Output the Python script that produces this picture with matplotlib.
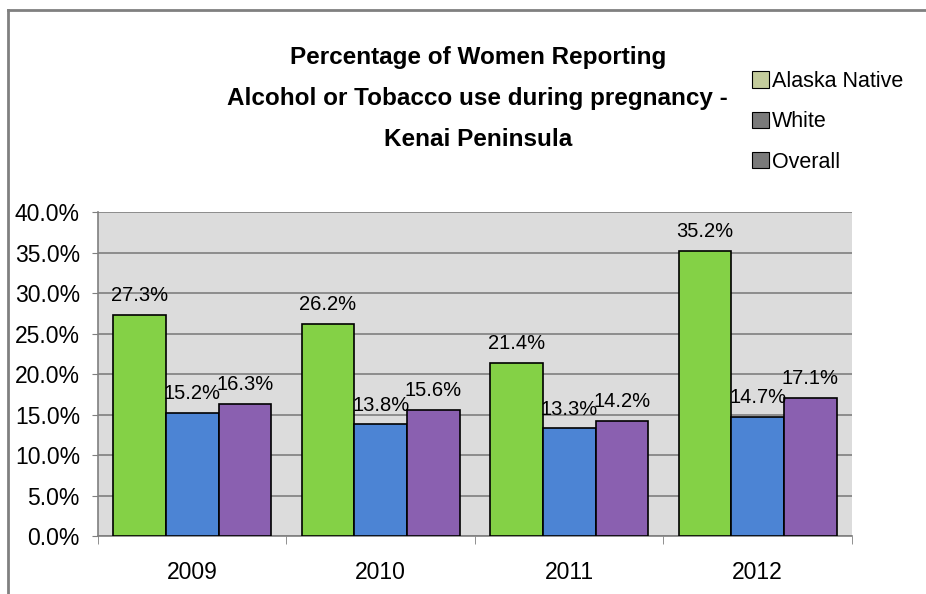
import numpy as np
import matplotlib.pyplot as plt
from matplotlib.lines import Line2D
from matplotlib.patches import Patch

plt.rcParams['font.family'] = ['Liberation Sans', 'DejaVu Sans']

years = ['2009', '2010', '2011', '2012']
series = ['Alaska Native', 'White', 'Overall']
alaska_native = [27.3, 26.2, 21.4, 35.2]
white = [15.2, 13.8, 13.3, 14.7]
overall = [16.3, 15.6, 14.2, 17.1]
colors = ['#84d146', '#4c84d4', '#8a60b0']
legend_marks = ['#c4cc9c', '#7a7a7a', '#7a7a7a']

fig = plt.figure(figsize=(9.26, 5.94), dpi=100, facecolor='white')
ax = fig.add_axes([0.1058, 0.0976, 0.8142, 0.5454])
ax.set_facecolor('#dcdcdc')

x = np.arange(len(years))
w = 0.28
for i, vals in enumerate([alaska_native, white, overall]):
    bars = ax.bar(x + (i - 1) * w, vals, w, color=colors[i],
                  edgecolor='black', linewidth=1.2, zorder=3)
    ax.bar_label(bars, labels=[f'{v:.1f}%' for v in vals], padding=7,
                 fontsize=14.5, zorder=4)

ax.set_xlim(-0.5, len(years) - 0.5)
ax.set_ylim(0, 40)
ax.set_yticks(np.arange(0, 41, 5))
ax.set_yticklabels([f'{v:.1f}%' for v in np.arange(0, 41, 5)])
ax.yaxis.grid(True, color='#7f7f7f', linewidth=1.2, zorder=0)
ax.set_axisbelow(True)

ax.set_xticks(x)
ax.set_xticklabels(years)
ax.set_xticks(np.arange(-0.5, len(years)), minor=True)
ax.tick_params(axis='x', which='major', length=0, pad=18, labelsize=16.5)
ax.tick_params(axis='x', which='minor', length=6, color='#7f7f7f', direction='out')
ax.tick_params(axis='y', length=4.5, color='#7f7f7f', pad=8.5, labelsize=16.5)

for s in ['top', 'right']:
    ax.spines[s].set_visible(False)
for s in ['left', 'bottom']:
    ax.spines[s].set_color('#7f7f7f')
    ax.spines[s].set_linewidth(1.2)

fig.text(0.516, 0.835, 'Percentage of Women Reporting\nAlcohol or Tobacco use during pregnancy -\nKenai Peninsula',
         ha='center', va='center', fontsize=17.5, fontweight='bold', linespacing=2.0)

handles = [Patch(facecolor=c, edgecolor='black', linewidth=0.8) for c in legend_marks]
fig.legend(handles, series, loc='upper left', bbox_to_anchor=(0.803, 0.895),
           frameon=False, fontsize=15.5, handlelength=0.8, handleheight=0.8,
           handletextpad=0.12, labelspacing=0.9, borderaxespad=0)

# outer frame on the top and left edges
fig.add_artist(Line2D([0.0086, 1.0], [0.984, 0.984], color='#808080', linewidth=2))
fig.add_artist(Line2D([0.0086, 0.0086], [0.0, 0.984], color='#808080', linewidth=2))

fig.savefig('out.png', dpi=100)
